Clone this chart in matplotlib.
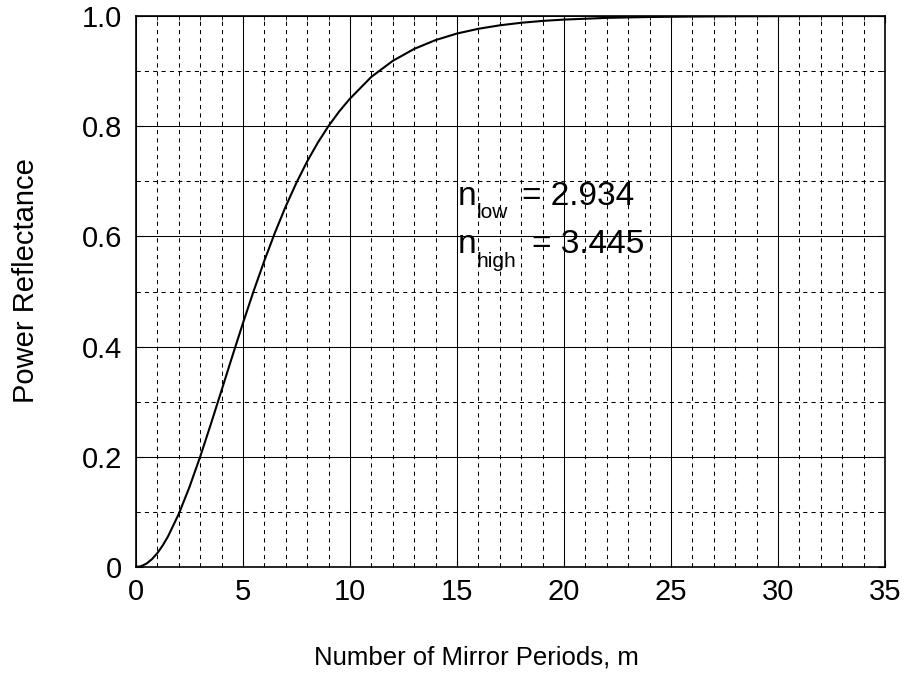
import matplotlib
matplotlib.use("Agg")
import matplotlib.pyplot as plt
import numpy as np

plt.rcParams['font.family'] = ['Liberation Sans', 'DejaVu Sans']

# Values
periods = [0, 0.25, 0.5, 0.75, 1, 1.25, 1.5, 2, 2.5, 3, 3.5, 4, 4.5, 5, 5.5, 6, 6.5, 7,
           7.5, 8, 8.5, 9, 9.5, 10, 11, 12, 13, 14, 15, 16, 17, 18, 19, 20, 22, 24,
           26, 28, 30, 32, 35]
reflectance = [0.0, 0.0016, 0.0064, 0.0144, 0.0253, 0.0392, 0.0558, 0.0964, 0.1453,
               0.2003, 0.2596, 0.3208, 0.3824, 0.4429, 0.5012, 0.5561, 0.6075, 0.6548,
               0.6976, 0.7362, 0.7704, 0.8005, 0.8270, 0.8501, 0.8896, 0.9186, 0.9403,
               0.9563, 0.9682, 0.9768, 0.9831, 0.9877, 0.9911, 0.9935, 0.9966, 0.9982,
               0.9990, 0.9995, 0.9997, 0.9999, 1.0]
xticks = [0, 5, 10, 15, 20, 25, 30, 35]
yticks = [0, 0.2, 0.4, 0.6, 0.8, 1.0]
ytick_labels = ['0', '0.2', '0.4', '0.6', '0.8', '1.0']

fig = plt.figure(figsize=(9.06, 6.77), dpi=100)
ax = fig.add_axes([136/906, 1 - 567/677, (885-136)/906, (567-16)/677])

ax.plot(periods, reflectance, color='black', lw=1.5)

ax.set_xlim(0, 35)
ax.set_ylim(0, 1)
ax.set_xticks(xticks)
ax.set_yticks(yticks)
ax.set_yticklabels(ytick_labels)
ax.set_xticks(np.arange(0, 36, 1), minor=True)
ax.set_yticks(np.arange(0, 1.01, 0.1), minor=True)
ax.grid(which='major', color='black', lw=0.75, ls='-')
ax.grid(which='minor', color='black', lw=0.75, ls=(0, (4, 4)))
ax.set_axisbelow(True)
ax.tick_params(which='both', direction='in', top=True, right=True, labelsize=21)
ax.tick_params(which='major', length=5)
ax.tick_params(which='minor', length=3)
ax.tick_params(axis='x', which='major', pad=8)
ax.tick_params(axis='y', which='major', pad=10)
for s in ax.spines.values():
    s.set_linewidth(1.2)

ax.set_xlabel('Number of Mirror Periods, m', fontsize=18.5, labelpad=28.5, x=0.454)
ax.set_ylabel('Power Reflectance', fontsize=21, labelpad=30, y=0.519)

# annotation: n_low / n_high with deep subscripts
ax.text(15.05, 0.657, 'n', fontsize=24, va='baseline')
ax.text(15.93, 0.633, 'low', fontsize=15, va='baseline')
ax.text(18.04, 0.657, '= 2.934', fontsize=24, va='baseline')
ax.text(15.05, 0.570, 'n', fontsize=24, va='baseline')
ax.text(15.93, 0.545, 'high', fontsize=15, va='baseline')
ax.text(18.50, 0.570, '= 3.445', fontsize=24, va='baseline')

fig.savefig('out.png', dpi=100)
